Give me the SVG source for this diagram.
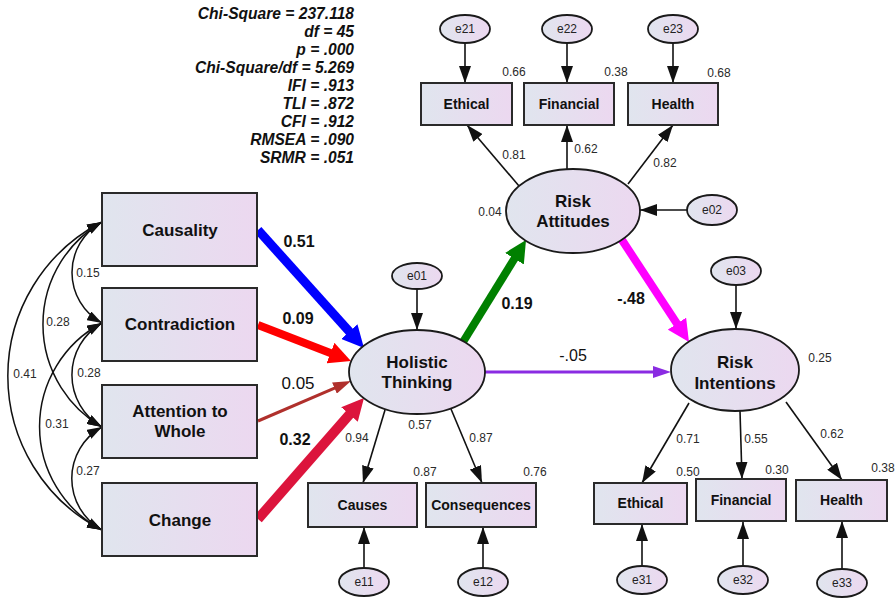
<svg xmlns="http://www.w3.org/2000/svg" width="896" height="599" viewBox="0 0 896 599">
<style>
text{font-family:"Liberation Sans",Arial,sans-serif;fill:#111}
.stat{font-size:15.6px;font-weight:bold;font-style:italic;text-anchor:end}
.big{font-size:17px;font-weight:bold;text-anchor:middle}
.sm{font-size:14px;font-weight:bold;text-anchor:middle}
.num{font-size:12px;fill:#2a2a2a;text-anchor:middle}
.err{font-size:12px;fill:#222;text-anchor:middle}
.coef{font-size:16px;font-weight:bold;text-anchor:middle}
.coefn{font-size:17px;text-anchor:middle}
.box{fill:url(#g);stroke:#2a2a2a;stroke-width:2}
.ell{fill:url(#g);stroke:#1a1a1a;stroke-width:1.8}
.ln{fill:none;stroke:#111;stroke-width:1.6;marker-end:url(#ah)}
.cov{fill:none;stroke:#111;stroke-width:1.5;marker-start:url(#ahc);marker-end:url(#ahc)}
</style>
<defs>
<linearGradient id="g" x1="0" y1="0" x2="1" y2="0">
<stop offset="0" stop-color="#e0e5ee"/>
<stop offset="1" stop-color="#ecd8f0"/>
</linearGradient>
<marker id="ah" viewBox="0 0 17 12" refX="17" refY="6" markerWidth="17" markerHeight="12" markerUnits="userSpaceOnUse" orient="auto-start-reverse"><path d="M0,0 L17,6 L0,12 z" fill="#111"/></marker>
<marker id="ahc" viewBox="0 0 15 10" refX="15" refY="5" markerWidth="15" markerHeight="10" markerUnits="userSpaceOnUse" orient="auto-start-reverse"><path d="M0,0 L15,5 L0,10 z" fill="#111"/></marker>
<marker id="mBlue" viewBox="0 0 22 22" refX="2" refY="11" markerWidth="22" markerHeight="22" markerUnits="userSpaceOnUse" orient="auto"><path d="M0,0 L22,11 L0,22 z" fill="#0000ff"/></marker>
<marker id="mRed" viewBox="0 0 22 22" refX="2" refY="11" markerWidth="22" markerHeight="22" markerUnits="userSpaceOnUse" orient="auto"><path d="M0,0 L22,11 L0,22 z" fill="#ff0000"/></marker>
<marker id="mCrim" viewBox="0 0 22 22" refX="2" refY="11" markerWidth="22" markerHeight="22" markerUnits="userSpaceOnUse" orient="auto"><path d="M0,0 L22,11 L0,22 z" fill="#dc143c"/></marker>
<marker id="mGreen" viewBox="0 0 22 22" refX="2" refY="11" markerWidth="22" markerHeight="22" markerUnits="userSpaceOnUse" orient="auto"><path d="M0,0 L22,11 L0,22 z" fill="#008000"/></marker>
<marker id="mMag" viewBox="0 0 22 22" refX="2" refY="11" markerWidth="22" markerHeight="22" markerUnits="userSpaceOnUse" orient="auto"><path d="M0,0 L22,11 L0,22 z" fill="#ff00ff"/></marker>
<marker id="mBrown" viewBox="0 0 18 12" refX="2" refY="6" markerWidth="18" markerHeight="12" markerUnits="userSpaceOnUse" orient="auto"><path d="M0,0 L18,6 L0,12 z" fill="#b0302c"/></marker>
<marker id="mPurp" viewBox="0 0 18 12" refX="2" refY="6" markerWidth="18" markerHeight="12" markerUnits="userSpaceOnUse" orient="auto"><path d="M0,0 L18,6 L0,12 z" fill="#8a2be2"/></marker>
</defs>
<rect width="896" height="599" fill="#fff"/>

<g id="fit-stats">
<text class="stat" x="354" y="19">Chi-Square = 237.118</text>
<text class="stat" x="354" y="37">df = 45</text>
<text class="stat" x="354" y="55">p = .000</text>
<text class="stat" x="354" y="73">Chi-Square/df = 5.269</text>
<text class="stat" x="354" y="91">IFI = .913</text>
<text class="stat" x="354" y="109">TLI = .872</text>
<text class="stat" x="354" y="127">CFI = .912</text>
<text class="stat" x="354" y="145">RMSEA = .090</text>
<text class="stat" x="354" y="163">SRMR = .051</text>
</g>

<g id="connectors">
<path class="cov" d="M102,222 A57.5,57.5 0 0 0 102,323"/>
<path class="cov" d="M102,222 A118.5,118.5 0 0 0 102,427"/>
<path class="cov" d="M102,222 A173,173 0 0 0 102,530"/>
<path class="cov" d="M102,323 A60,60 0 0 0 102,427"/>
<path class="cov" d="M102,323 A117,117 0 0 0 102,530"/>
<path class="cov" d="M102,427 A59,59 0 0 0 102,530"/>

<line x1="258" y1="230" x2="350.6" y2="333.1" stroke="#0000ff" stroke-width="9" marker-end="url(#mBlue)"/>
<line x1="258" y1="325" x2="332.3" y2="353.8" stroke="#ff0000" stroke-width="8" marker-end="url(#mRed)"/>
<line x1="258" y1="421" x2="336.3" y2="387.3" stroke="#b0302c" stroke-width="3" marker-end="url(#mBrown)"/>
<line x1="258" y1="519" x2="350.8" y2="413" stroke="#dc143c" stroke-width="10" marker-end="url(#mCrim)"/>
<line x1="463" y1="342" x2="515.5" y2="257" stroke="#008000" stroke-width="8" marker-end="url(#mGreen)"/>
<line x1="622" y1="240" x2="678" y2="325.3" stroke="#ff00ff" stroke-width="8" marker-end="url(#mMag)"/>
<line x1="485" y1="372" x2="655" y2="372" stroke="#8a2be2" stroke-width="3" marker-end="url(#mPurp)"/>

<line class="ln" x1="417" y1="289" x2="417" y2="330"/>
<line class="ln" x1="687" y1="210" x2="640" y2="210"/>
<line class="ln" x1="736" y1="285" x2="736" y2="329"/>
<line class="ln" x1="465" y1="43" x2="465" y2="83"/>
<line class="ln" x1="567" y1="43" x2="567" y2="83"/>
<line class="ln" x1="673" y1="43" x2="673" y2="83"/>
<line class="ln" x1="519" y1="186" x2="467" y2="125"/>
<line class="ln" x1="567" y1="169" x2="567" y2="125"/>
<line class="ln" x1="628" y1="184" x2="673" y2="125"/>
<line class="ln" x1="385" y1="410" x2="363" y2="483"/>
<line class="ln" x1="451" y1="409" x2="482" y2="483"/>
<line class="ln" x1="364" y1="568" x2="364" y2="527"/>
<line class="ln" x1="483" y1="568" x2="483" y2="527"/>
<line class="ln" x1="689" y1="403" x2="642" y2="483"/>
<line class="ln" x1="740" y1="411" x2="742" y2="479"/>
<line class="ln" x1="786" y1="402" x2="842" y2="480"/>
<line class="ln" x1="642" y1="566" x2="642" y2="524"/>
<line class="ln" x1="743" y1="566" x2="743" y2="522"/>
<line class="ln" x1="842" y1="569" x2="842" y2="521"/>
</g>

<g id="connector-labels">
<text class="num" x="88" y="277">0.15</text>
<text class="num" x="58" y="326">0.28</text>
<text class="num" x="25" y="378">0.41</text>
<text class="num" x="89" y="377">0.28</text>
<text class="num" x="57" y="428">0.31</text>
<text class="num" x="88" y="475">0.27</text>
<text class="coef" x="299" y="247">0.51</text>
<text class="coef" x="298" y="324">0.09</text>
<text class="coefn" x="298" y="389">0.05</text>
<text class="coef" x="295" y="445">0.32</text>
<text class="coef" x="517" y="309">0.19</text>
<text class="coef" x="631" y="304">-.48</text>
<text class="coefn" x="573" y="361" style="font-size:16px">-.05</text>
<text class="num" x="514" y="159">0.81</text>
<text class="num" x="586" y="153">0.62</text>
<text class="num" x="665" y="167">0.82</text>
<text class="num" x="357" y="442">0.94</text>
<text class="num" x="481" y="442">0.87</text>
<text class="num" x="688" y="443">0.71</text>
<text class="num" x="756" y="443">0.55</text>
<text class="num" x="832" y="438">0.62</text>
</g>

<g id="causality"><rect class="box" x="102" y="193" width="155" height="73"/><text class="big" x="180" y="236">Causality</text></g>
<g id="contradiction"><rect class="box" x="102" y="288" width="155" height="73"/><text class="big" x="180" y="330">Contradiction</text></g>
<g id="attention"><rect class="box" x="102" y="385" width="155" height="73"/><text class="big" x="180" y="417">Attention to</text><text class="big" x="180" y="437">Whole</text></g>
<g id="change"><rect class="box" x="102" y="483" width="155" height="73"/><text class="big" x="180" y="526">Change</text></g>

<g id="holistic"><ellipse class="ell" cx="417" cy="372" rx="68" ry="42"/><text class="big" x="417" y="368">Holistic</text><text class="big" x="417" y="388">Thinking</text><text class="num" x="420" y="429">0.57</text></g>
<g id="e01"><ellipse class="ell" cx="417" cy="276" rx="25" ry="13"/><text class="err" x="417" y="280">e01</text></g>

<g id="risk-attitudes"><ellipse class="ell" cx="573" cy="211" rx="67" ry="42"/><text class="big" x="573" y="207">Risk</text><text class="big" x="573" y="227">Attitudes</text><text class="num" x="490" y="216">0.04</text></g>
<g id="e02"><ellipse class="ell" cx="712" cy="210" rx="25" ry="15"/><text class="err" x="712" y="214">e02</text></g>

<g id="risk-intentions"><ellipse class="ell" cx="735" cy="370" rx="64" ry="41"/><text class="big" x="735" y="368">Risk</text><text class="big" x="735" y="389">Intentions</text><text class="num" x="820" y="362">0.25</text></g>
<g id="e03"><ellipse class="ell" cx="736" cy="271" rx="25" ry="14"/><text class="err" x="736" y="275">e03</text></g>

<g id="ra-ethical"><rect class="box" x="421" y="83" width="91" height="42"/><text class="sm" x="466.5" y="109">Ethical</text><text class="num" x="514" y="76">0.66</text></g>
<g id="ra-financial"><rect class="box" x="524" y="83" width="90" height="42"/><text class="sm" x="569" y="109">Financial</text><text class="num" x="616" y="76">0.38</text></g>
<g id="ra-health"><rect class="box" x="628" y="83" width="90" height="42"/><text class="sm" x="673" y="109">Health</text><text class="num" x="719" y="77">0.68</text></g>
<g id="e21"><ellipse class="ell" cx="465" cy="29" rx="25" ry="14"/><text class="err" x="465" y="33">e21</text></g>
<g id="e22"><ellipse class="ell" cx="567" cy="29" rx="25" ry="14"/><text class="err" x="567" y="33">e22</text></g>
<g id="e23"><ellipse class="ell" cx="673" cy="29" rx="25" ry="14"/><text class="err" x="673" y="33">e23</text></g>

<g id="causes"><rect class="box" x="308" y="483" width="109" height="44"/><text class="sm" x="362.5" y="510">Causes</text><text class="num" x="425" y="476">0.87</text></g>
<g id="consequences"><rect class="box" x="426" y="483" width="110" height="44"/><text class="sm" x="481" y="510">Consequences</text><text class="num" x="535" y="476">0.76</text></g>
<g id="e11"><ellipse class="ell" cx="364" cy="582" rx="25" ry="14"/><text class="err" x="364" y="586">e11</text></g>
<g id="e12"><ellipse class="ell" cx="483" cy="582" rx="25" ry="14"/><text class="err" x="483" y="586">e12</text></g>

<g id="ri-ethical"><rect class="box" x="594" y="483" width="93" height="41"/><text class="sm" x="640.5" y="508">Ethical</text><text class="num" x="688" y="476">0.50</text></g>
<g id="ri-financial"><rect class="box" x="696" y="479" width="90" height="42"/><text class="sm" x="741" y="505">Financial</text><text class="num" x="777" y="474">0.30</text></g>
<g id="ri-health"><rect class="box" x="796" y="480" width="91" height="41"/><text class="sm" x="841.5" y="505">Health</text><text class="num" x="883" y="472">0.38</text></g>
<g id="e31"><ellipse class="ell" cx="642" cy="580" rx="25" ry="14"/><text class="err" x="642" y="584">e31</text></g>
<g id="e32"><ellipse class="ell" cx="743" cy="580" rx="25" ry="14"/><text class="err" x="743" y="584">e32</text></g>
<g id="e33"><ellipse class="ell" cx="842" cy="583" rx="25" ry="14"/><text class="err" x="842" y="587">e33</text></g>
</svg>
